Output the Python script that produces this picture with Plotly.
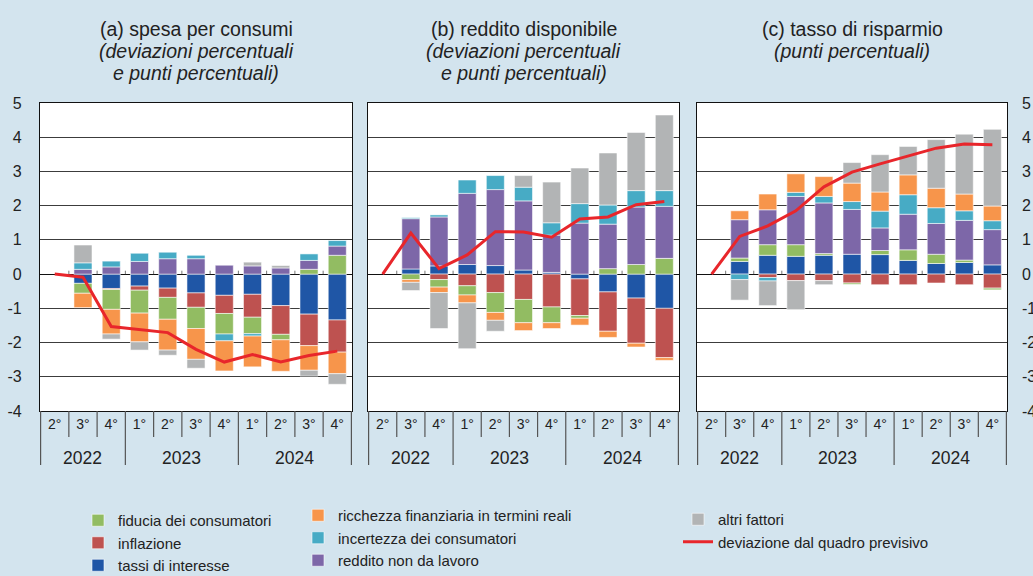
import plotly.graph_objects as go

# categories
years = ["2022", "2022", "2022", "2023", "2023", "2023", "2023", "2024", "2024", "2024", "2024"]
quarters = ["2°", "3°", "4°", "1°", "2°", "3°", "4°", "1°", "2°", "3°", "4°"]
periods = [f"{y}-{q}" for y, q in zip(years, quarters)]
y_ticks = [-4, -3, -2, -1, 0, 1, 2, 3, 4, 5]

# (a) spesa per consumi
a_tassi = [None, -0.27, -0.42, -0.35, -0.41, -0.55, -0.62, -0.59, -0.92, -1.17, -1.34]
a_inflazione = [None, None, -0.03, -0.12, -0.27, -0.42, -0.53, -0.67, -0.84, -0.92, -0.94]
a_fiducia = [None, -0.29, -0.58, -0.67, -0.64, -0.62, -0.60, -0.48, -0.16, 0.14, 0.55]
a_reddito = [None, 0.14, 0.21, 0.37, 0.45, 0.45, 0.26, 0.24, 0.18, 0.26, 0.27]
a_incertezza = [None, 0.19, 0.17, 0.24, 0.19, 0.10, -0.20, -0.07, None, 0.19, 0.16]
a_ricchezza = [None, -0.42, -0.72, -0.84, -0.90, -0.90, -0.88, -0.90, -0.92, -0.72, -0.63]
a_altri = [None, 0.52, -0.15, -0.24, -0.15, -0.26, None, 0.11, 0.07, -0.17, -0.31]
a_deviazione = [0, -0.09, -1.53, -1.62, -1.71, -2.20, -2.57, -2.35, -2.57, -2.38, -2.25]

# (b) reddito disponibile
b_tassi = [None, 0.15, 0.24, 0.28, 0.25, 0.12, 0.05, -0.14, -0.52, -0.70, -1.00]
b_inflazione = [None, None, -0.16, -0.34, -0.54, -0.74, -0.96, -1.07, -1.15, -1.32, -1.44]
b_fiducia = [None, -0.16, -0.22, -0.27, -0.58, -0.68, -0.46, -0.08, 0.16, 0.28, 0.46]
b_reddito = [None, 1.47, 1.43, 2.08, 2.22, 2.02, 1.09, 1.49, 1.30, 1.68, 1.52]
b_incertezza = [None, 0.03, 0.06, 0.39, 0.41, 0.40, 0.36, 0.57, 0.56, 0.48, 0.46]
b_ricchezza = [None, -0.08, -0.16, -0.23, -0.23, -0.23, -0.17, -0.20, -0.18, -0.11, -0.08]
b_altri = [None, -0.24, -1.05, -1.34, -0.32, 0.34, 1.19, 1.04, 1.52, 1.70, 2.21]
b_deviazione = [0, 1.20, 0.16, 0.56, 1.24, 1.23, 1.08, 1.61, 1.67, 2.03, 2.12]

# (c) tasso di risparmio
c_tassi = [None, 0.37, 0.55, 0.52, 0.55, 0.58, 0.57, 0.40, 0.31, 0.34, 0.27]
c_inflazione = [None, None, -0.10, -0.19, -0.19, -0.26, -0.31, -0.31, -0.26, -0.31, -0.41]
c_fiducia = [None, 0.10, 0.31, 0.34, 0.05, -0.04, 0.12, 0.31, 0.27, 0.07, -0.05]
c_reddito = [None, 1.12, 1.02, 1.41, 1.48, 1.31, 0.66, 1.04, 0.90, 1.16, 1.03]
c_incertezza = [None, -0.16, -0.10, 0.12, 0.19, 0.23, 0.49, 0.57, 0.46, 0.28, 0.26]
c_ricchezza = [None, 0.26, 0.46, 0.54, 0.58, 0.54, 0.56, 0.58, 0.57, 0.49, 0.43]
c_altri = [None, -0.60, -0.72, -0.85, -0.12, 0.60, 1.09, 0.83, 1.42, 1.75, 2.24]
c_deviazione = [0, 1.10, 1.41, 1.85, 2.55, 2.98, 3.22, 3.45, 3.68, 3.80, 3.78]

# panel titles, one list of lines per panel
titles = [
    ["(a) spesa per consumi", "<i>(deviazioni percentuali</i>", "<i>e punti percentuali)</i>"],
    ["(b) reddito disponibile", "<i>(deviazioni percentuali</i>", "<i>e punti percentuali)</i>"],
    ["(c) tasso di risparmio", "<i>(punti percentuali)</i>"],
]

# factor name, colour, legend, rank (stacking order = list order)
factors = [
    ("tassi di interesse", "#1f56a6", "legend", 3),
    ("inflazione", "#be5250", "legend", 2),
    ("fiducia dei consumatori", "#92bc62", "legend", 1),
    ("reddito non da lavoro", "#7d67a8", "legend2", 3),
    ("incertezza dei consumatori", "#47abc5", "legend2", 2),
    ("ricchezza finanziaria in termini reali", "#f7954b", "legend2", 1),
    ("altri fattori", "#b2b4b5", "legend3", 1),
]
panels = [
    ([a_tassi, a_inflazione, a_fiducia, a_reddito, a_incertezza, a_ricchezza, a_altri], a_deviazione),
    ([b_tassi, b_inflazione, b_fiducia, b_reddito, b_incertezza, b_ricchezza, b_altri], b_deviazione),
    ([c_tassi, c_inflazione, c_fiducia, c_reddito, c_incertezza, c_ricchezza, c_altri], c_deviazione),
]

W, H = 1033, 576
BG = "#d3e4ee"
def py(px):
    return 1 - px / H

domains = [[40 / W, 352 / W], [368 / W, 679 / W], [697 / W, 1007 / W]]
FONT = "Liberation Sans, Arial, sans-serif"
TXT = "#222222"

fig = go.Figure()
for p, (series, line) in enumerate(panels):
    xa = "x" if p == 0 else f"x{p+1}"
    ya = "y" if p == 0 else f"y{p+1}"
    for (name, col, leg, rank), vals in zip(factors, series):
        fig.add_trace(go.Bar(
            x=periods, y=vals, name=name, xaxis=xa, yaxis=ya,
            marker=dict(color=col, line=dict(color="rgba(255,255,255,0.7)", width=0.8)),
            legend=leg, legendrank=rank, showlegend=(p == 0),
        ))
    fig.add_trace(go.Scatter(
        x=periods, y=line, mode="lines", name="deviazione dal quadro previsivo",
        xaxis=xa, yaxis=("y4" if p == 2 else ya),
        line=dict(color="#e8262b", width=3),
        legend="legend3", legendrank=2, showlegend=(p == 0),
    ))

# plain hyphen for negatives, like the original
y_ticktext = [str(v) for v in y_ticks]

layout_axes = {}
for p in range(3):
    xk = "xaxis" if p == 0 else f"xaxis{p+1}"
    yk = "yaxis" if p == 0 else f"yaxis{p+1}"
    ya = "y" if p == 0 else f"y{p+1}"
    xa = "x" if p == 0 else f"x{p+1}"
    layout_axes[xk] = dict(
        domain=domains[p], anchor=ya, type="category",
        categoryorder="array", categoryarray=periods,
        tickvals=periods, ticktext=quarters, ticks="",
        tickfont=dict(size=14, color=TXT),
        showline=True, mirror=True, linecolor="#111111", linewidth=1.2,
        showgrid=False, zeroline=False, automargin=False,
    )
    layout_axes[yk] = dict(
        domain=[py(411), py(103)], anchor=xa, range=[-4, 5],
        tickvals=y_ticks, ticktext=y_ticktext,
        showgrid=True, gridcolor="#3c3c3c", gridwidth=1,
        zeroline=True, zerolinecolor="#111111", zerolinewidth=1.2,
        showline=True, mirror=True, linecolor="#111111", linewidth=1.2,
        showticklabels=(p == 0), ticks="", ticklabelstandoff=14,
        tickfont=dict(size=16, color=TXT), automargin=False,
    )
layout_axes["yaxis4"] = dict(
    overlaying="y3", anchor="x3", side="right", range=[-4, 5],
    tickvals=y_ticks, ticktext=y_ticktext,
    showgrid=False, zeroline=False, showline=False, ticks="",
    ticklabelstandoff=14, tickfont=dict(size=16, color=TXT), automargin=False,
)

shapes = []
annotations = []
for p in range(3):
    xa = "x" if p == 0 else f"x{p+1}"
    ya = "y" if p == 0 else f"y{p+1}"
    for i in range(-1, 11):
        b = i + 0.5
        long_sep = b in (-0.5, 2.5, 6.5, 10.5)
        shapes.append(dict(
            type="line", xref=xa, yref="paper", x0=b, x1=b,
            y0=py(411), y1=py(465 if long_sep else 437),
            line=dict(color="#555555", width=1.2),
        ))
        if -0.5 < b < 10.5:
            shapes.append(dict(
                type="line", xref=xa, yref=ya, x0=b, x1=b, y0=0, y1=0.1,
                line=dict(color="#777777", width=1),
            ))
    for yr, cx in (("2022", 1), ("2023", 4.5), ("2024", 8.5)):
        annotations.append(dict(
            text=yr, xref=xa, yref="paper", x=cx, y=py(458),
            yanchor="middle", showarrow=False, font=dict(size=17.5, color=TXT),
        ))
    for k, txt in enumerate(titles[p]):
        annotations.append(dict(
            text=txt, xref="paper", yref="paper",
            x=sum(domains[p]) / 2, y=py(29 + 22 * k), yanchor="middle", xanchor="center",
            showarrow=False, font=dict(size=19.5, color=TXT),
        ))

legend_style = dict(
    bgcolor="rgba(0,0,0,0)", font=dict(size=15, color=TXT, family=FONT),
    orientation="v", yanchor="top", xanchor="left", traceorder="normal",
    itemclick=False,
)
fig.update_layout(
    width=W, height=H,
    margin=dict(l=0, r=0, t=0, b=0, autoexpand=False),
    paper_bgcolor=BG, plot_bgcolor="#ffffff",
    font=dict(family=FONT, color=TXT),
    barmode="relative", bargap=0.36,
    shapes=shapes, annotations=annotations,
    legend=dict(x=78 / W, y=py(504), **legend_style),
    legend2=dict(x=298 / W, y=py(499), **legend_style),
    legend3=dict(x=678 / W, y=py(503), **legend_style),
    **layout_axes,
)

# drop the page's default body margin so the figure sits at the window corner
fig.write_html(
    "out.html",
    config=dict(displayModeBar=False),
    post_script=f"document.body.style.margin='0';document.body.style.background='{BG}';",
)
